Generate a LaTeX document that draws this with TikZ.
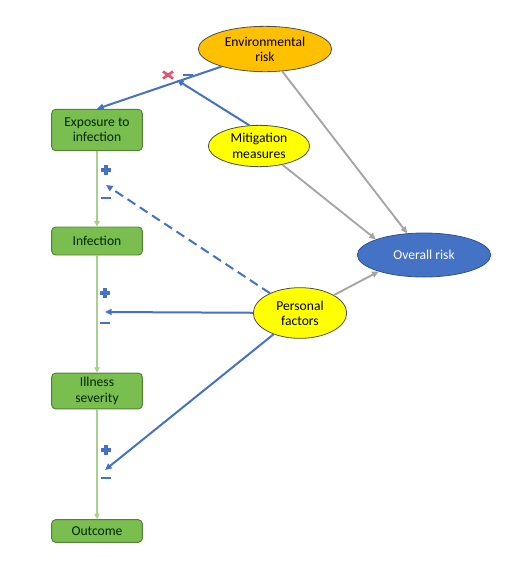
\documentclass[tikz,border=0pt]{standalone}
\usepackage{fontspec}
\setmainfont{Carlito}
\usetikzlibrary{arrows.meta,shapes.geometric,calc}

\definecolor{boxGreen}{RGB}{122,190,80}
\definecolor{boxGreenLine}{RGB}{84,130,53}
\definecolor{lineGreen}{RGB}{169,209,142}
\definecolor{riskBlue}{RGB}{68,114,196}
\definecolor{riskBlueLine}{RGB}{47,82,143}
\definecolor{envOrange}{RGB}{255,192,0}
\definecolor{factorYellow}{RGB}{255,255,0}
\definecolor{arrowGray}{RGB}{165,165,165}
\definecolor{blockRed}{RGB}{226,84,112}

\tikzset{
	stepbox/.style={draw=boxGreenLine, fill=boxGreen, rounded corners=3pt, line width=0.7pt,
		minimum width=68pt, align=center, text=black!85!green, font=\fontsize{10.2}{11.5}\selectfont},
	factor/.style={ellipse, draw=black!70, fill=factorYellow, line width=0.6pt, align=center,
		inner sep=0pt, font=\fontsize{10.2}{11.5}\selectfont},
	bluearrow/.style={riskBlue, line width=1.5pt, -{Triangle[length=5pt,width=4.5pt]}},
	grayarrow/.style={arrowGray, line width=1.4pt, -{Triangle[length=5pt,width=4.5pt]}},
	greenarrow/.style={lineGreen, line width=1.3pt, -{Triangle[length=4pt,width=4pt]}},
	plusmark/.style={minimum size=7.5pt, inner sep=0pt, path picture={
		\draw[riskBlue, line width=2.6pt] (path picture bounding box.west) -- (path picture bounding box.east);
		\draw[riskBlue, line width=2.6pt] (path picture bounding box.north) -- (path picture bounding box.south);}},
	minusmark/.style={minimum width=7.5pt, minimum height=2.2pt, inner sep=0pt, fill=riskBlue}
}

\begin{document}
\begin{tikzpicture}[x=0.75pt, y=-0.75pt]
	\useasboundingbox (0,0) rectangle (514,561);

	% outcome chain
	\node[stepbox, minimum height=31pt] (expo) at (97,130) {Exposure to\\infection};
	\node[stepbox, minimum height=21pt] (inf) at (97,241) {Infection};
	\node[stepbox, minimum height=26pt] (ill) at (97,391) {Illness\\severity};
	\node[stepbox, minimum height=17pt] (out) at (97,531) {Outcome};

	% risk factors
	\node[factor, fill=envOrange, minimum width=100pt, minimum height=34pt] (env) at (265,49) {Environmental\\risk};
	\node[factor, minimum width=76pt, minimum height=31pt] (mit) at (259,146) {Mitigation\\measures};
	\node[factor, minimum width=70pt, minimum height=38pt] (pers) at (300,313) {Personal\\factors};
	\node[factor, draw=riskBlueLine, fill=riskBlue, text=white, minimum width=100pt, minimum height=33pt] (over) at (424,255) {Overall risk};

	% arrow ends on the chain
	\coordinate (blk) at (168,75);
	\coordinate (mtip) at (177,80);
	\coordinate (p1) at (106,185);
	\coordinate (p2) at (105,312);
	\coordinate (p3) at (105,470);

	% chain arrows
	\draw[greenarrow] (expo) -- (inf);
	\draw[greenarrow] (inf) -- (ill);
	\draw[greenarrow] (ill) -- (out);

	% overall risk
	\draw[grayarrow] (env) -- (over);
	\draw[grayarrow] (mit) -- (over.162);
	\draw[grayarrow] (pers) -- (over.200);

	% effects on the chain
	\draw[bluearrow] (env.202) -- (expo.north);
	\draw[bluearrow] (mit.115) -- (mtip);
	\draw[bluearrow, dash pattern=on 7pt off 4pt] (pers) -- (p1);
	\draw[bluearrow] (pers) -- (p2);
	\draw[bluearrow] (pers) -- (p3);

	% blocking mark
	\draw[blockRed, line width=2pt] ($(blk)+(-5,-3.5)$) -- ($(blk)+(5,3.5)$);
	\draw[blockRed, line width=2pt] ($(blk)+(-5,3.5)$) -- ($(blk)+(5,-3.5)$);
	\node[minusmark] (m0) at (188,75) {};

	% signs
	\node[plusmark] (s1) at (106,170) {};
	\node[minusmark] (m1) at (106,198) {};
	\node[plusmark] (s2) at (105,293) {};
	\node[minusmark] (m2) at (105,323) {};
	\node[plusmark] (s3) at (106,450) {};
	\node[minusmark] (m3) at (106,478) {};
\end{tikzpicture}
\end{document}
